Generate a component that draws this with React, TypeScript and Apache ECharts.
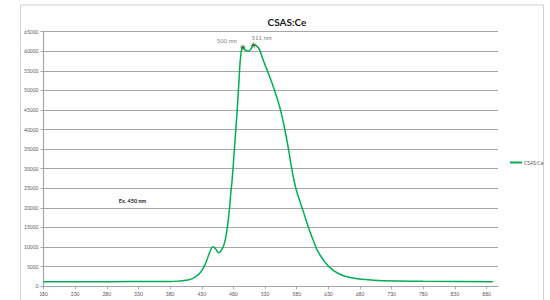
import React, { useEffect, useRef } from "react";
import * as echarts from "echarts";

const wavelengths = [180, 250, 320, 380, 395, 405, 416, 424, 430, 437, 443, 448, 452, 457, 461, 465, 469, 473, 476, 478, 482, 486, 489, 492, 495, 499, 503, 507, 512, 517, 521, 525, 530, 535, 540, 545, 550, 555, 561, 567, 572, 578, 584, 590, 599, 609, 613, 620, 631, 645, 663, 684, 716, 780, 890];
const intensities = [1150, 1150, 1170, 1220, 1330, 1500, 2000, 2900, 3960, 6260, 8800, 10100, 9500, 8560, 9200, 10500, 13500, 18600, 24000, 27150, 36000, 45000, 53000, 59500, 61000, 60300, 60000, 60400, 61600, 61300, 60500, 58700, 56500, 54500, 52300, 50000, 47500, 44600, 40200, 35000, 30200, 25400, 22200, 19300, 14800, 10500, 9000, 7200, 5000, 3300, 2270, 1760, 1400, 1250, 1150];

const peakWavelengths = [495, 512];
const peakValues = [61000, 61600];
const peakLabels = ["500 nm", "511 nm"];

const seriesName = "CSAS:Ce";
const titleText = "CSAS:Ce";
const noteText = "Ex. 450 nm";

const starPath =
  "path://M50,0 L58,35 L93,20 L68,48 L100,60 L62,63 L72,100 L50,72 L28,100 L38,63 L0,60 L32,48 L7,20 L42,35 Z";

export default function App() {
  const ref = useRef<HTMLDivElement>(null);
  useEffect(() => {
    if (!ref.current) return;
    const chart = echarts.init(ref.current, null, { renderer: "svg" });
    const labelOffsets = [
      [-16, -7],
      [8, -8],
    ];
    chart.setOption({
      animation: false,
      backgroundColor: "#ffffff",
      title: {
        text: titleText,
        left: 282,
        top: 12,
        textAlign: "center",
        textStyle: {
          fontFamily: "Lato",
          fontWeight: "bold",
          fontSize: 10,
          color: "#1a1a1a",
        },
      },
      legend: {
        data: [{ name: seriesName, icon: "rect" }],
        left: 510,
        top: 160,
        padding: 0,
        itemWidth: 12,
        itemHeight: 2,
        itemGap: 2,
        textStyle: { fontSize: 5, color: "#595959", fontFamily: "Lato", padding: [0, 0, 0, -3] },
      },
      grid: { left: 43.5, right: 52, top: 31.7, bottom: 13.8, containLabel: false },
      xAxis: {
        type: "value",
        min: 180,
        max: 898,
        interval: 50,
        axisLine: { show: true, lineStyle: { color: "#a6a6a6", width: 1.2 } },
        axisTick: { show: true, length: 3, lineStyle: { color: "#a6a6a6" } },
        axisLabel: {
          fontSize: 5,
          color: "#595959",
          fontFamily: "Lato",
          margin: 5,
          showMaxLabel: false,
          formatter: (v: number) => String(v),
        },
        splitLine: { show: false },
      },
      yAxis: {
        type: "value",
        min: 0,
        max: 65000,
        interval: 5000,
        axisLine: { show: true, lineStyle: { color: "#a6a6a6", width: 1.2 } },
        axisTick: { show: true, length: 3, lineStyle: { color: "#a6a6a6" } },
        axisLabel: {
          fontSize: 5,
          color: "#595959",
          fontFamily: "Lato",
          margin: 5,
          formatter: (v: number) => String(v),
        },
        splitLine: { show: true, lineStyle: { color: "#a6a6a6", width: 1.2 } },
      },
      graphic: [
        {
          type: "rect",
          shape: { x: 20.5, y: 5, width: 523, height: 310 },
          style: { fill: "none", stroke: "#d0d0d0", lineWidth: 1 },
          silent: true,
        },
        {
          type: "text",
          x: 132.5,
          y: 200.7,
          style: {
            text: noteText,
            fontSize: 5.5,
            fontWeight: "bold",
            fontFamily: "Lato",
            fill: "#1a1a1a",
            align: "center",
            verticalAlign: "middle",
          },
        },
      ],
      series: [
        {
          name: seriesName,
          type: "line",
          data: wavelengths.map((w, i) => [w, intensities[i]]),
          smooth: 0.5,
          showSymbol: false,
          lineStyle: { color: "#00b050", width: 1.5 },
          itemStyle: { color: "#00b050" },
          z: 3,
        },
        {
          name: "peaks",
          type: "scatter",
          data: peakWavelengths.map((w, i) => ({
            value: [w, peakValues[i]],
            label: {
              show: true,
              position: "inside",
              offset: labelOffsets[i],
              formatter: peakLabels[i],
              fontSize: 6,
              color: "#595959",
              fontFamily: "Lato",
            },
          })),
          symbol: starPath,
          symbolSize: 7,
          itemStyle: { color: "#2f6b2f" },
          z: 4,
        },
      ],
    });
    return () => chart.dispose();
  }, []);
  return (
    <div
      ref={ref}
      style={{ position: "fixed", left: 0, top: 0, width: 550, height: 300 }}
    />
  );
}
